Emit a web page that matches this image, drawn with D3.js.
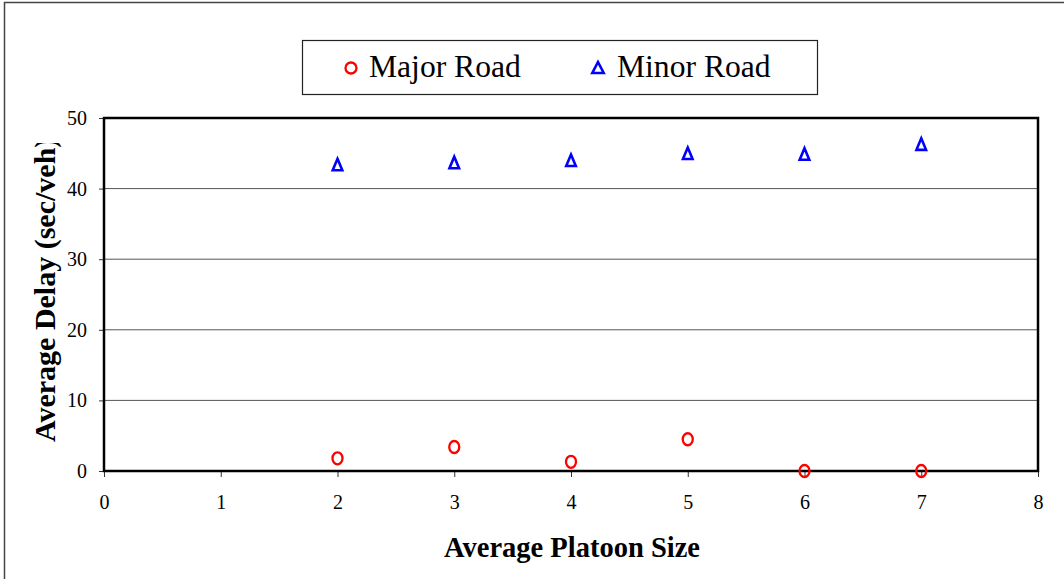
<!DOCTYPE html>
<html><head><meta charset="utf-8">
<script src="https://cdn.jsdelivr.net/npm/d3@7"></script>
<style>body{margin:0;background:#fff}svg{display:block}text{font-family:"Liberation Serif","Times New Roman",serif}</style>
</head><body><svg id="c" width="1064" height="579"></svg>
<script>
const platoonSizes = [2, 3, 4, 5, 6, 7];
const majorRoad = [1.8, 3.4, 1.3, 4.5, 0, 0];
const minorRoad = [43.3, 43.6, 43.9, 44.9, 44.8, 46.2];
const xTicks = [0, 1, 2, 3, 4, 5, 6, 7, 8];
const yTicks = [0, 10, 20, 30, 40, 50];
const seriesNames = ["Major Road", "Minor Road"];

const FONT = '"Liberation Serif", "Times New Roman", serif';
const svg = d3.select("#c");
const W = 1064, H = 579;
const m = {l: 104, r: 1038, t: 118, b: 471};
const x = d3.scaleLinear().domain([0, 8]).range([m.l, m.r]);
const y = d3.scaleLinear().domain([0, 50]).range([m.b, m.t]);

function triPath(hw, top, bot) {
  const p = d3.path();
  p.moveTo(0, -top); p.lineTo(hw, bot); p.lineTo(-hw, bot); p.closePath();
  return p.toString();
}

// outer border
svg.append("rect").attr("x", 4.5).attr("y", 2.5).attr("width", W + 10).attr("height", H + 10)
  .attr("fill", "none").attr("stroke", "#444").attr("stroke-width", 1.5);

// gridlines
svg.append("g").selectAll("line").data(yTicks.filter(d => d > 0 && d < 50)).join("line")
  .attr("x1", m.l).attr("x2", m.r).attr("y1", d => y(d)).attr("y2", d => y(d))
  .attr("stroke", "#555").attr("stroke-width", 1);

// axes
const xAxis = svg.append("g").attr("transform", `translate(0,${m.b})`)
  .call(d3.axisBottom(x).tickValues(xTicks).tickFormat(d3.format("d")).tickSize(6).tickPadding(18));
const yAxis = svg.append("g").attr("transform", `translate(${m.l},0)`)
  .call(d3.axisLeft(y).tickValues(yTicks).tickFormat(d3.format("d")).tickSize(5).tickPadding(12));
[xAxis, yAxis].forEach(g => {
  g.attr("font-family", FONT);
  g.select(".domain").remove();
  g.selectAll(".tick line").attr("stroke", "#333").attr("stroke-width", 1);
  g.selectAll("text").attr("font-size", 20).attr("fill", "#000").attr("font-family", FONT);
});

// plot border
svg.append("rect").attr("x", m.l).attr("y", m.t).attr("width", m.r - m.l).attr("height", m.b - m.t)
  .attr("fill", "none").attr("stroke", "#000").attr("stroke-width", 2.5);

// markers
svg.append("g").selectAll("path").data(platoonSizes.map((p, i) => [p, minorRoad[i]])).join("path")
  .attr("d", triPath(4.8, 6.5, 5)).attr("transform", d => `translate(${x(d[0])},${y(d[1])})`)
  .attr("fill", "none").attr("stroke", "#0000ff").attr("stroke-width", 2.6);
svg.append("g").selectAll("ellipse").data(platoonSizes.map((p, i) => [p, majorRoad[i]])).join("ellipse")
  .attr("cx", d => x(d[0])).attr("cy", d => y(d[1])).attr("rx", 5).attr("ry", 6)
  .attr("fill", "none").attr("stroke", "#ff0000").attr("stroke-width", 2.3);

// axis titles
svg.append("text").attr("x", 572).attr("y", 557).attr("text-anchor", "middle")
  .attr("font-family", FONT).attr("font-size", 28.5).attr("font-weight", "bold").text("Average Platoon Size");
svg.append("clipPath").attr("id", "yclip").append("rect")
  .attr("x", 0).attr("y", 143).attr("width", 100).attr("height", 400);
svg.append("g").attr("clip-path", "url(#yclip)").append("text")
  .attr("transform", "translate(55,442) rotate(-90)").attr("text-anchor", "start")
  .attr("font-family", FONT).attr("font-size", 30).attr("font-weight", "bold").text("Average Delay (sec/veh)");

// legend
const lg = svg.append("g");
lg.append("rect").attr("x", 302.5).attr("y", 40.5).attr("width", 515).attr("height", 54)
  .attr("fill", "#fff").attr("stroke", "#222").attr("stroke-width", 1.2);
lg.append("circle").attr("cx", 351).attr("cy", 68).attr("r", 5.5)
  .attr("fill", "none").attr("stroke", "#ff0000").attr("stroke-width", 2.3);
lg.append("text").attr("x", 369).attr("y", 77).attr("font-family", FONT).attr("font-size", 31.6).text(seriesNames[0]);
lg.append("path").attr("d", triPath(5.7, 6, 5)).attr("transform", "translate(598,68)")
  .attr("fill", "none").attr("stroke", "#0000ff").attr("stroke-width", 2.6);
lg.append("text").attr("x", 617).attr("y", 77).attr("font-family", FONT).attr("font-size", 31.6).text(seriesNames[1]);
</script></body></html>
